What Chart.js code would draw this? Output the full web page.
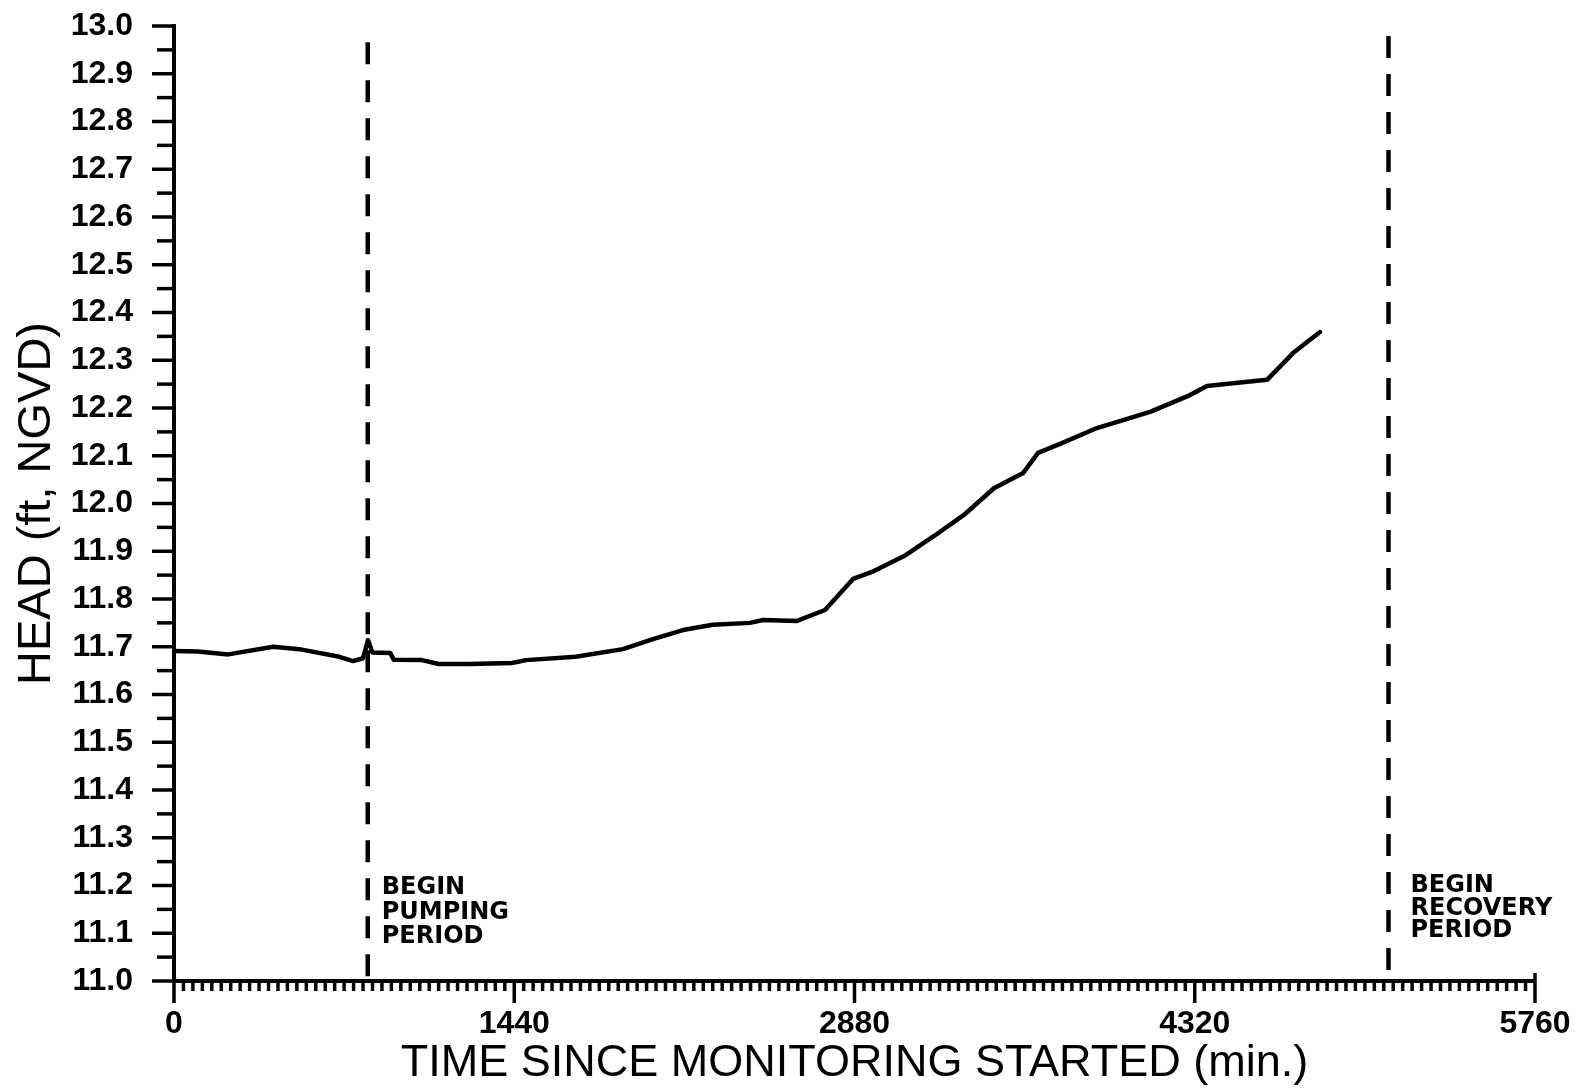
<!DOCTYPE html>
<html>
<head>
<meta charset="utf-8">
<script src="https://cdn.jsdelivr.net/npm/chart.js@4/dist/chart.umd.min.js"></script>
<style>
  html, body { margin: 0; padding: 0; background: #ffffff; }
  #wrap { width: 1575px; height: 1091px; position: relative; }
</style>
</head>
<body>
<div id="wrap"><canvas id="c"></canvas></div>
<script>
// ---- data ----
const timeMin = [0, 100, 230, 420, 530, 700, 757, 800, 821, 840, 915, 930, 1050, 1120, 1250, 1430, 1490, 1700, 1900, 2027, 2154, 2280, 2438, 2493, 2637, 2755, 2874, 2960, 3090, 3217, 3343, 3470, 3594, 3657, 3760, 3906, 4131, 4300, 4372, 4482, 4626, 4736, 4850];
const headFt = [11.691, 11.69, 11.684, 11.70, 11.695, 11.679, 11.67, 11.676, 11.714, 11.688, 11.687, 11.673, 11.672, 11.664, 11.664, 11.666, 11.672, 11.679, 11.695, 11.716, 11.735, 11.746, 11.75, 11.756, 11.754, 11.777, 11.842, 11.858, 11.89, 11.932, 11.976, 12.032, 12.064, 12.106, 12.127, 12.158, 12.192, 12.227, 12.246, 12.252, 12.259, 12.315, 12.359];

const markerTimes = [820, 5140];          // begin pumping, begin recovery (min)
const markerTops = [12.966, 12.979];      // top end of dashed lines (ft)
const markerLabels = [
  ['BEGIN', 'PUMPING', 'PERIOD'],
  ['BEGIN', 'RECOVERY', 'PERIOD']
];

const xMin = 0, xMax = 5760, xMinorStep = 40, xMajorStep = 1440;
const yMin = 11.0, yMax = 13.0, yMinorStep = 0.05;
const xTitle = 'TIME SINCE MONITORING STARTED (min.)';
const yTitle = 'HEAD (ft, NGVD)';

// ---- styles ----
const INK = '#000000';
const tickFont = { family: "'Liberation Sans', Arial, sans-serif", size: 32, weight: 'bold' };
const xTitleFont = { family: "'Liberation Sans', Arial, sans-serif", size: 45, weight: 'normal', lineHeight: 1.2 };
const yTitleFont = { family: "'Liberation Sans', Arial, sans-serif", size: 47, weight: 'normal', lineHeight: 1.2 };
const noteFont = "bold 24px 'DejaVu Sans', sans-serif";
const noteStyle = [
  { dx: 14, baselines: [87, 62, 38] },
  { dx: 22, baselines: [89, 66, 44] }
];

const isXMajor = v => Math.abs(v % xMajorStep) < 1e-6;
const isYMajor = v => Math.round(v * 100) % 10 === 0;

const seriesPoints = timeMin.map((t, i) => ({ x: t, y: headFt[i] }));
const markerDatasets = markerTimes.map((t, i) => ({
  label: 'marker' + i,
  data: [{ x: t, y: markerTops[i] }, { x: t, y: yMin }],
  borderColor: INK,
  borderWidth: 4.5,
  borderDash: [22, 16],
  pointRadius: 0,
  fill: false,
  tension: 0
}));

function noPad(s) {
  s.paddingTop = 0; s.paddingBottom = 0; s.paddingLeft = 0; s.paddingRight = 0;
}

const ticksPlugin = {
  id: 'ticksPlugin',
  afterDraw(chart) {
    const ctx = chart.ctx;
    const xs = chart.scales.x, ys = chart.scales.y;
    ctx.save();
    ctx.strokeStyle = INK;
    ctx.lineWidth = 3.5;
    ctx.lineCap = 'butt';
    xs.ticks.forEach(t => {
      const px = xs.getPixelForValue(t.value);
      ctx.beginPath();
      ctx.moveTo(px, xs.top);
      ctx.lineTo(px, xs.top + (isXMajor(t.value) ? 22 : 10));
      ctx.stroke();
    });
    // hook at right end of the axis
    const pr = xs.getPixelForValue(xMax);
    ctx.beginPath();
    ctx.moveTo(pr, xs.top);
    ctx.lineTo(pr, xs.top - 8);
    ctx.stroke();
    ys.ticks.forEach(t => {
      const py = ys.getPixelForValue(t.value);
      ctx.beginPath();
      ctx.moveTo(ys.right, py);
      ctx.lineTo(ys.right - (isYMajor(t.value) ? 22 : 17), py);
      ctx.stroke();
    });
    ctx.restore();
  },
  afterDatasetsDraw(chart) {
    const ctx = chart.ctx;
    const xs = chart.scales.x;
    const bottom = chart.chartArea.bottom;
    ctx.save();
    ctx.fillStyle = INK;
    ctx.font = noteFont;
    ctx.textAlign = 'left';
    ctx.textBaseline = 'alphabetic';
    markerTimes.forEach((t, i) => {
      const px = xs.getPixelForValue(t) + noteStyle[i].dx;
      markerLabels[i].forEach((line, j) => {
        ctx.fillText(line, px, bottom - noteStyle[i].baselines[j]);
      });
    });
    ctx.restore();
  }
};

new Chart(document.getElementById('c'), {
  type: 'line',
  data: {
    datasets: [
      {
        label: 'Head',
        data: seriesPoints,
        borderColor: INK,
        borderWidth: 4.5,
        pointRadius: 0,
        fill: false,
        tension: 0,
        borderJoinStyle: 'round',
        borderCapStyle: 'round'
      },
      ...markerDatasets
    ]
  },
  options: {
    responsive: true,
    maintainAspectRatio: false,
    animation: false,
    devicePixelRatio: 1,
    layout: { padding: { top: 26, right: 40, left: 0, bottom: 0 } },
    plugins: { legend: { display: false }, tooltip: { enabled: false } },
    scales: {
      x: {
        type: 'linear',
        min: xMin, max: xMax,
        afterFit: s => { s.height = 110; noPad(s); },
        grid: { display: false },
        border: { display: true, color: INK, width: 4 },
        ticks: {
          stepSize: xMinorStep,
          autoSkip: false,
          maxRotation: 0, minRotation: 0,
          padding: 16,
          color: INK,
          font: tickFont,
          callback: v => isXMajor(v) ? String(Math.round(v)) : ''
        },
        title: {
          display: true, text: xTitle, color: INK, font: xTitleFont,
          padding: { top: 0, bottom: 0 }
        }
      },
      y: {
        type: 'linear',
        min: yMin, max: yMax,
        afterFit: s => { s.width = 174; noPad(s); },
        grid: { display: false },
        border: { display: true, color: INK, width: 4 },
        ticks: {
          stepSize: yMinorStep,
          autoSkip: false,
          padding: 33,
          color: INK,
          font: tickFont,
          callback: v => isYMajor(v) ? Number(v).toFixed(1) : ''
        },
        title: {
          display: true, text: yTitle, color: INK, font: yTitleFont,
          padding: { top: 9, bottom: 0 }
        }
      }
    }
  },
  plugins: [ticksPlugin]
});
</script>
</body>
</html>
